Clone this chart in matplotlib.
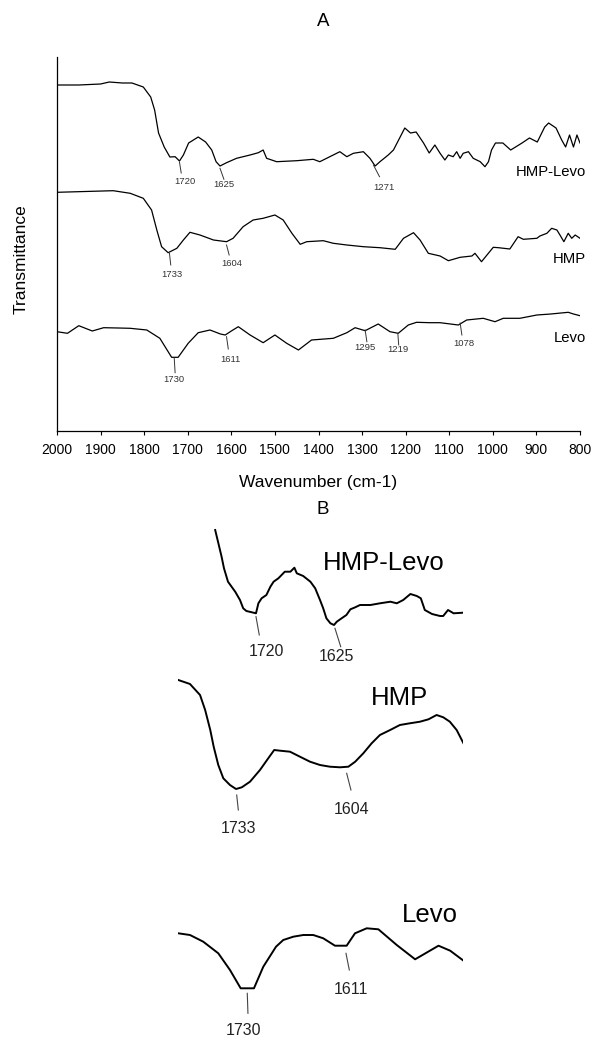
import matplotlib
matplotlib.use('Agg')
import matplotlib.pyplot as plt

plt.rcParams['font.family'] = ['Liberation Sans', 'DejaVu Sans']

# ---------------- Panel A data (wavenumber, transmittance in arbitrary units) ----------------
hmplevo_wn = [2000, 1950, 1900, 1880, 1850, 1828, 1802, 1785, 1776, 1767, 1754, 1741, 1729, 1719,
              1710, 1698, 1676, 1659, 1645, 1635, 1626, 1611, 1588, 1557, 1538, 1527, 1519, 1496,
              1450, 1412, 1397, 1374, 1351, 1335, 1320, 1297, 1282, 1270, 1259, 1240, 1228, 1202,
              1189, 1176, 1159, 1146, 1133, 1121, 1110, 1102, 1091, 1083, 1075, 1068, 1056, 1045,
              1029, 1018, 1010, 1003, 994, 977, 959, 933, 916, 898, 881, 872, 855, 842, 833, 824,
              815, 807, 800]
hmplevo_t = [346, 346, 347, 349, 348, 348, 344, 334, 321, 298, 284, 274, 274.3, 270,
             276, 288, 294, 289, 281, 269.3, 265, 268.3, 272.7, 276, 278.3, 281, 272.7, 269.3,
             270.3, 271.7, 269.3, 274.3, 279.3, 274.3, 277.7, 279.3, 272.7, 265, 269.3, 276, 281, 303,
             298, 299, 288, 278, 286, 277.7, 271, 276, 274.3, 279.3, 272.7, 277.7, 279.3, 272.7,
             269.3, 264.3, 269.3, 281, 288, 288, 281, 288, 293, 289, 304, 308, 303, 291, 284, 296,
             284, 296, 288]

hmp_wn = [2000, 1871, 1832, 1802, 1783, 1771, 1760, 1745, 1725, 1710, 1695, 1672, 1641, 1611,
          1596, 1573, 1550, 1527, 1500, 1481, 1461, 1442, 1427, 1389, 1366, 1335, 1297, 1259,
          1224, 1205, 1182, 1167, 1148, 1121, 1102, 1075, 1048, 1041, 1026, 999, 987, 961, 942,
          930, 899, 892, 876, 865, 853, 846, 837, 827, 819, 811, 800]
hmp_t = [238.7, 240.3, 237.7, 232.7, 221, 201, 184.3, 178.3, 182.7, 191, 198.7, 196, 191, 189.3,
         192.7, 204.3, 211, 212.7, 216, 211, 197.7, 186.7, 189.3, 190.3, 187.7, 186, 184.3, 183.3,
         181.7, 192.7, 198.3, 191, 177.7, 175, 170.3, 173.7, 175, 177.7, 169.3, 183.7, 183.3, 182, 194.3,
         191.7, 192.7, 195, 197.7, 202.7, 201, 196, 189.3, 197.7, 192.7, 196, 192.7]

levo_wn = [2000, 1976, 1950, 1919, 1893, 1860, 1832, 1794, 1764, 1737, 1722, 1699, 1676, 1649,
           1625, 1614, 1600, 1584, 1557, 1527, 1500, 1473, 1446, 1416, 1366, 1335, 1316, 1293,
           1263, 1236, 1217, 1194, 1175, 1144, 1121, 1079, 1060, 1022, 995, 976, 938, 899, 867,
           827, 815, 800]
levo_t = [99.3, 97.7, 105.3, 100, 103.3, 103, 102.7, 101, 92.7, 73.7, 73.7, 87.7, 98.3, 101,
          97, 96, 100, 104.3, 96, 88.3, 96, 87.7, 81, 91, 92.7, 98.3, 103.3, 100.3,
          107, 99.3, 97.7, 106, 108.7, 108.3, 108.3, 106, 111, 112.7, 109.3, 112.7, 112.7, 116, 117,
          118.7, 117, 115.3]

series_labels = ['HMP-Levo', 'HMP', 'Levo']

# peak annotations in panel A: label, line start (wn, t), line end (wn, t), text (wn, t)
peaks_A = [
    ('1720', (1719, 269), (1715, 258), (1706, 249)),
    ('1625', (1626, 262.7), (1617, 251.7), (1617, 246.5)),
    ('1271', (1274, 266), (1260, 254.3), (1250, 244)),
    ('1733', (1742, 177.7), (1739, 166), (1736, 156.5)),
    ('1604', (1611, 186), (1605, 176), (1599, 167)),
    ('1730', (1731, 72.7), (1729, 58.3), (1733, 51)),
    ('1611', (1611, 94.3), (1607, 82), (1601, 72)),
    ('1295', (1293, 101), (1289, 89.3), (1294, 83)),
    ('1219', (1218, 97.7), (1216, 86), (1217, 82)),
    ('1078', (1075, 108), (1071, 96), (1066, 88)),
]

# ---------------- Panel B data (expanded 1800-1460 region) ----------------
b_hmplevo_wn = [1771, 1767, 1763, 1760, 1755, 1746, 1740, 1736, 1732, 1723, 1720, 1717, 1713, 1707,
                1702, 1698, 1692, 1684, 1677, 1672, 1669, 1661, 1652, 1646, 1640, 1636, 1632, 1627,
                1622.5, 1619, 1613, 1607, 1602, 1596, 1590, 1577, 1565, 1552, 1544, 1536, 1527, 1519,
                1514, 1509, 1500, 1490, 1486, 1480, 1473, 1461]
b_hmplevo_t = [110, 96.7, 83.3, 71.7, 58.3, 48.3, 40, 31.7, 29, 27.3, 26.7, 36.7, 41.7, 45,
               53.3, 58.3, 61.7, 68.3, 68.3, 72.3, 66.7, 64, 58.3, 51.7, 40, 31.7, 21.7, 16.7,
               15, 18.3, 21.7, 25, 30.7, 32.7, 35, 35, 36.7, 38.3, 36.7, 40, 46, 44,
               41.7, 30, 26, 24, 24, 30, 26.7, 27.3]

b_hmp_wn = [1801.5, 1787.8, 1776, 1770, 1764, 1760, 1754.6, 1748.7, 1740.9, 1733.8, 1727, 1717.4,
            1705.7, 1696, 1689, 1682, 1670.5, 1658.8, 1647, 1635.3, 1623.6, 1611.8, 1602, 1594,
            1584.5, 1574.7, 1565, 1553, 1541.6, 1529.9, 1518, 1508, 1498.5, 1490.7, 1483, 1475, 1467]
b_hmp_t = [120, 116, 105, 90, 70, 53.3, 35, 21.7, 15, 11, 12.7, 18.3,
           30, 41.7, 50, 49.3, 48.3, 43.3, 38.3, 35, 33.3, 32.7, 33.3, 38.3,
           46.7, 56.7, 65, 70, 75, 76.7, 78.3, 80.7, 85, 82.7, 78.3, 70, 56.7]

b_levo_wn = [1812.6, 1798.6, 1782.7, 1764.7, 1750.7, 1737.9, 1722, 1710.8, 1695.6, 1686.9, 1674.9,
             1662.9, 1651, 1639, 1625, 1611, 1601, 1587, 1573, 1551, 1529, 1501, 1487, 1471]
b_levo_t = [66.7, 65, 58.3, 46.7, 30, 11.7, 11.7, 33.3, 53.3, 60, 63.3,
            65, 65, 61.7, 54.3, 54.3, 66.7, 71.7, 70.7, 55, 40.7, 54.3, 49.3, 39.3]

# ---------------- Figure ----------------
W, H = 593, 1038
fig = plt.figure(figsize=(W / 100, H / 100), dpi=100)

axA = fig.add_axes([57 / W, 1 - 431 / H, 523 / W, 374 / H])
line_kw = dict(color='black', lw=0.9)
axA.plot(hmplevo_wn, hmplevo_t, **line_kw)
axA.plot(hmp_wn, hmp_t, **line_kw)
axA.plot(levo_wn, levo_t, **line_kw)
axA.set_xlim(2000, 800)
axA.set_ylim(0, 374)
axA.set_xticks(list(range(2000, 799, -100)))
axA.set_yticks([])
for s in ['top', 'right']:
    axA.spines[s].set_visible(False)
for s in ['left', 'bottom']:
    axA.spines[s].set_linewidth(0.9)
axA.tick_params(axis='x', direction='out', length=3, width=0.8, pad=6, labelsize=10)

for lab, y in zip(series_labels, [258.5, 172, 93]):
    axA.text(786, y, lab, ha='right', va='center', fontsize=10.7, clip_on=False)

for lab, p0, p1, pt in peaks_A:
    axA.plot([p0[0], p1[0]], [p0[1], p1[1]], color='#333333', lw=0.7)
    axA.text(pt[0], pt[1], lab, ha='center', va='center', fontsize=6.8, color='#333333')

fig.text(21 / W, 1 - 259 / H, 'Transmittance', rotation=90, ha='center', va='center', fontsize=12.5)
fig.text(318.5 / W, 1 - 483 / H, 'Wavenumber (cm-1)', ha='center', va='center', fontsize=12.5)
fig.text(323 / W, 1 - 22 / H, 'A', ha='center', va='center', fontsize=13.5)
fig.text(323 / W, 1 - 510 / H, 'B', ha='center', va='center', fontsize=13.5)

# ---------------- Panel B ----------------
def b_axes(top_px, bottom_px, xl, xr, ytop):
    ax = fig.add_axes([178.3 / W, 1 - bottom_px / H, 285 / W, (bottom_px - top_px) / H])
    ax.set_xlim(xl, xr)
    ax.set_ylim(0, ytop)
    ax.axis('off')
    return ax

bk = dict(color='black', lw=1.4)
ann_kw = dict(color='#444444', lw=0.8)
num_fs = 11.5

ax1 = b_axes(520, 640, 1817.1, 1460.9, 120)
ax1.plot(b_hmplevo_wn, b_hmplevo_t, **bk)
ax1.text(1560, 77, 'HMP-Levo', ha='center', va='center', fontsize=18.5, clip_on=False)
for lab, p0, p1, pt in [('1720', (1720, 23.3), (1715.9, 5), (1707.5, -11.7)),
                        ('1625', (1621.3, 11.7), (1614.1, -6.7), (1619, -16.7))]:
    ax1.plot([p0[0], p1[0]], [p0[1], p1[1]], clip_on=False, **ann_kw)
    ax1.text(pt[0], pt[1], lab, ha='center', va='center', fontsize=num_fs, color='#222222', clip_on=False)

ax2 = b_axes(670, 800, 1801.5, 1467.2, 130)
ax2.plot(b_hmp_wn, b_hmp_t, **bk)
ax2.text(1542.6, 102, 'HMP', ha='center', va='center', fontsize=18.5, clip_on=False)
for lab, p0, p1, pt in [('1733', (1733, 5), (1731.1, -10), (1731, -28.3)),
                        ('1604', (1604, 26.7), (1599, 10), (1598, -10))]:
    ax2.plot([p0[0], p1[0]], [p0[1], p1[1]], clip_on=False, **ann_kw)
    ax2.text(pt[0], pt[1], lab, ha='center', va='center', fontsize=num_fs, color='#222222', clip_on=False)

ax3 = b_axes(900, 1000, 1812.6, 1471.3, 100)
ax3.plot(b_levo_wn, b_levo_t, **bk)
ax3.text(1511, 85, 'Levo', ha='center', va='center', fontsize=18.5, clip_on=False)
for lab, p0, p1, pt in [('1730', (1730, 6.7), (1729.2, -13.3), (1735, -30.5)),
                        ('1611', (1611.8, 46.7), (1607.8, 30), (1605.8, 10))]:
    ax3.plot([p0[0], p1[0]], [p0[1], p1[1]], clip_on=False, **ann_kw)
    ax3.text(pt[0], pt[1], lab, ha='center', va='center', fontsize=num_fs, color='#222222', clip_on=False)

fig.savefig('out.png', dpi=100)
